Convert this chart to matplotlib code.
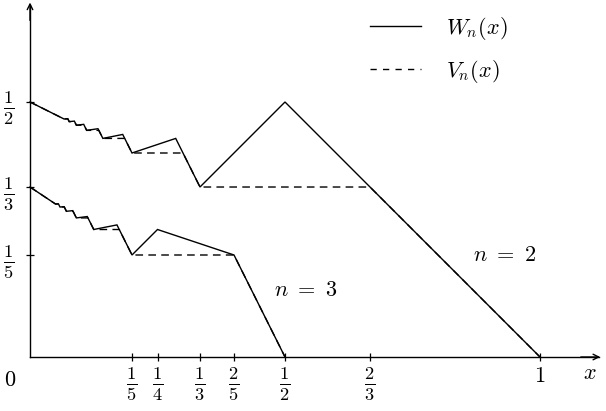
import matplotlib
matplotlib.use("Agg")
import matplotlib.pyplot as plt

plt.rcParams['mathtext.fontset'] = 'cm'
plt.rcParams['font.family'] = ['DejaVu Serif']

# ---- data ----
w2_x = [0, 0.0667, 0.0741, 0.0769, 0.0870, 0.0909, 0.1053, 0.1111, 0.1333, 0.1429,
        0.1818, 0.2, 0.2857, 0.3333, 0.5, 1.0]
w2_y = [0.5, 0.4667, 0.4673, 0.4615, 0.4625, 0.4545, 0.4562, 0.4444, 0.4476, 0.4286,
        0.4364, 0.4, 0.4286, 0.3333, 0.5, 0.0]
v2_x = [0, 0.0667, 0.0743, 0.0769, 0.0874, 0.0909, 0.1061, 0.1111, 0.1349, 0.1429,
        0.1857, 0.2, 0.3, 0.3333, 0.6667, 1.0]
v2_y = [0.5, 0.4667, 0.4667, 0.4615, 0.4615, 0.4545, 0.4545, 0.4444, 0.4444, 0.4286,
        0.4286, 0.4, 0.4, 0.3333, 0.3333, 0.0]
w3_x = [0, 0.05, 0.0557, 0.0588, 0.0670, 0.0714, 0.0838, 0.0909, 0.1123, 0.125,
        0.1705, 0.2, 0.25, 0.4, 0.5]
w3_y = [0.3333, 0.3, 0.3003, 0.2941, 0.2947, 0.2857, 0.2870, 0.2727, 0.2754, 0.25,
        0.259, 0.2, 0.25, 0.2, 0.0]
v3_x = [0, 0.05, 0.0559, 0.0588, 0.0672, 0.0714, 0.0844, 0.0909, 0.1136, 0.125,
        0.175, 0.2, 0.4, 0.5]
v3_y = [0.3333, 0.3, 0.3, 0.2941, 0.2941, 0.2857, 0.2857, 0.2727, 0.2727, 0.25,
        0.25, 0.2, 0.2, 0.0]

xticks = [1/5, 1/4, 1/3, 2/5, 1/2, 2/3, 1]
xticklabels = [r'$\frac{1}{5}$', r'$\frac{1}{4}$', r'$\frac{1}{3}$', r'$\frac{2}{5}$',
               r'$\frac{1}{2}$', r'$\frac{2}{3}$', r'$1$']
yticks = [1/5, 1/3, 1/2]
yticklabels = [r'$\frac{1}{5}$', r'$\frac{1}{3}$', r'$\frac{1}{2}$']

fig = plt.figure(figsize=(6.06, 4.11), dpi=100)
ax = fig.add_axes([0, 0, 1, 1])
ax.set_xlim(-30/510, 576/510)
ax.set_ylim(-54/510, 357/510)

dash = (0, (5.5, 3.8))
ax.plot(w2_x, w2_y, color='black', lw=1.0, solid_joinstyle='miter')
ax.plot(v2_x, v2_y, color='black', lw=1.0, linestyle=dash)
ax.plot(w3_x, w3_y, color='black', lw=1.0, solid_joinstyle='miter')
ax.plot(v3_x, v3_y, color='black', lw=1.0, linestyle=dash)

# axes through origin
for s in ['top', 'right']:
    ax.spines[s].set_visible(False)
ax.spines['left'].set_position(('data', 0))
ax.spines['bottom'].set_position(('data', 0))
ax.spines['left'].set_bounds(0, 0.69)
ax.spines['bottom'].set_bounds(0, 1.115)
ax.spines['left'].set_linewidth(1.0)
ax.spines['bottom'].set_linewidth(1.0)
ax.annotate('', xy=(1.118, 0), xytext=(1.08, 0),
            arrowprops=dict(arrowstyle='->', lw=1.0, color='black',
                            shrinkA=0, shrinkB=0, mutation_scale=10))
ax.annotate('', xy=(0, 0.695), xytext=(0, 0.66),
            arrowprops=dict(arrowstyle='->', lw=1.0, color='black',
                            shrinkA=0, shrinkB=0, mutation_scale=10))

ax.set_xticks(xticks)
ax.set_xticklabels(xticklabels, fontsize=19)
ax.set_yticks(yticks)
ax.set_yticklabels(yticklabels, fontsize=19)
ax.get_xticklabels()[-1].set_fontsize(16)
ax.tick_params(axis='both', direction='inout', length=6, width=0.9, pad=3)
ax.tick_params(axis='y', pad=8)

ax.text(-0.039, -0.045, r'$0$', fontsize=16, ha='center', va='center')
ax.text(1.098, -0.032, r'$x$', fontsize=16, ha='center', va='center')
ax.text(0.541, 0.131, r'$n\ =\ 3$', fontsize=16, ha='center', va='center')
ax.text(0.931, 0.2, r'$n\ =\ 2$', fontsize=16, ha='center', va='center')

from matplotlib.lines import Line2D
handles = [Line2D([], [], color='black', lw=1.0),
           Line2D([], [], color='black', lw=1.0, linestyle=(0, (4.5, 4.5)))]
leg = ax.legend(handles, [r'$W_n(x)$', r'$V_n(x)$'], loc='upper left',
                bbox_to_anchor=(350/606, 1 + 5/411), frameon=False, fontsize=16,
                handlelength=2.3, handletextpad=1.1, labelspacing=0.7)

fig.savefig('out.png', dpi=100)
